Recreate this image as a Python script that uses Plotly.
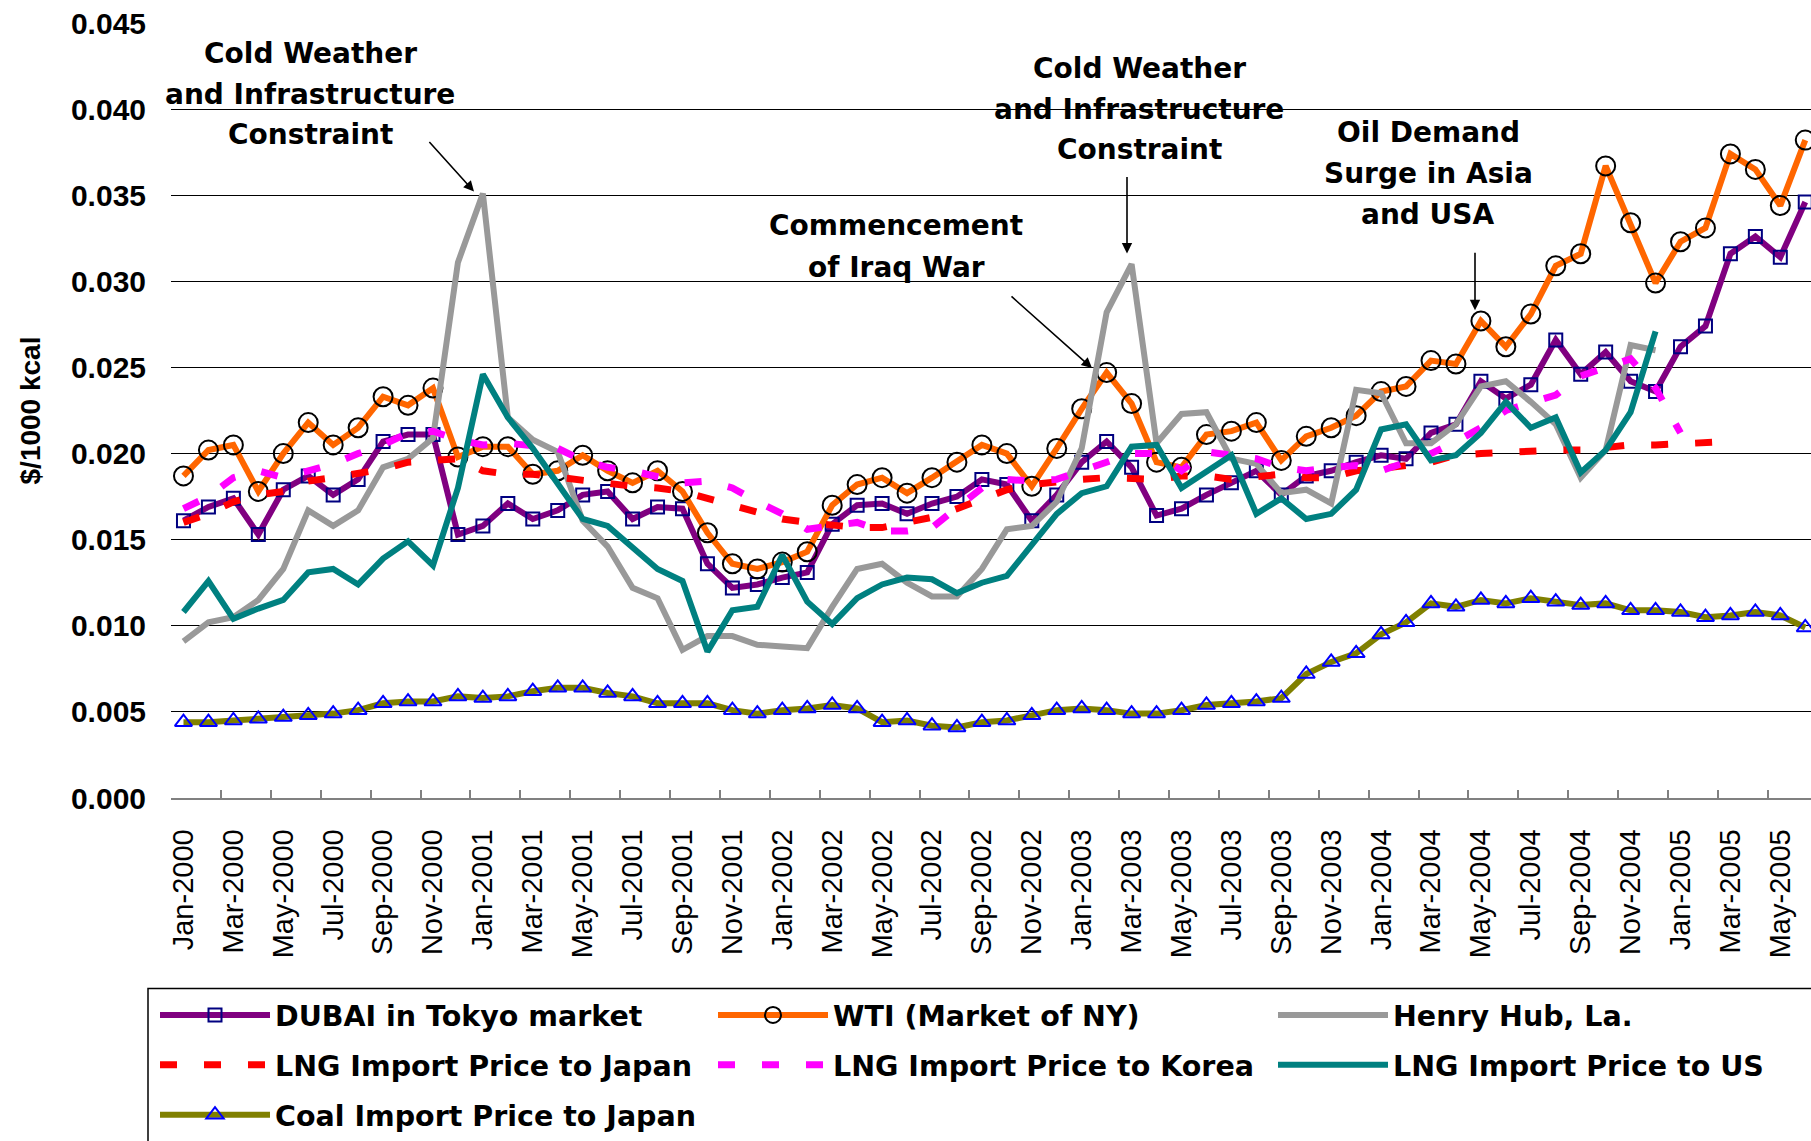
import plotly.graph_objects as go

months = [
    "Jan-2000", "Feb-2000", "Mar-2000", "Apr-2000", "May-2000", "Jun-2000", "Jul-2000", "Aug-2000", "Sep-2000", "Oct-2000", "Nov-2000", "Dec-2000",
    "Jan-2001", "Feb-2001", "Mar-2001", "Apr-2001", "May-2001", "Jun-2001", "Jul-2001", "Aug-2001", "Sep-2001", "Oct-2001", "Nov-2001", "Dec-2001",
    "Jan-2002", "Feb-2002", "Mar-2002", "Apr-2002", "May-2002", "Jun-2002", "Jul-2002", "Aug-2002", "Sep-2002", "Oct-2002", "Nov-2002", "Dec-2002",
    "Jan-2003", "Feb-2003", "Mar-2003", "Apr-2003", "May-2003", "Jun-2003", "Jul-2003", "Aug-2003", "Sep-2003", "Oct-2003", "Nov-2003", "Dec-2003",
    "Jan-2004", "Feb-2004", "Mar-2004", "Apr-2004", "May-2004", "Jun-2004", "Jul-2004", "Aug-2004", "Sep-2004", "Oct-2004", "Nov-2004", "Dec-2004",
    "Jan-2005", "Feb-2005", "Mar-2005", "Apr-2005", "May-2005", "Jun-2005",
]

dubai = [
    0.0161, 0.0169, 0.0174, 0.0153, 0.0179, 0.0187, 0.0176, 0.0185, 0.0207, 0.0211, 0.0211, 0.0153,
    0.0158, 0.0171, 0.0162, 0.0167, 0.0176, 0.0178, 0.0162, 0.0169, 0.0168, 0.0136, 0.0122, 0.0124,
    0.0128, 0.0131, 0.0159, 0.0170, 0.0171, 0.0165, 0.0171, 0.0175, 0.0185, 0.0182, 0.0161, 0.0176,
    0.0195, 0.0207, 0.0192, 0.0164, 0.0168, 0.0176, 0.0183, 0.0190, 0.0176, 0.0187, 0.0190, 0.0195,
    0.0199, 0.0197, 0.0212, 0.0217, 0.0242, 0.0232, 0.0240, 0.0266, 0.0246, 0.0259, 0.0242, 0.0236,
    0.0262, 0.0274, 0.0316, 0.0326, 0.0314, 0.0346,
]

wti = [
    0.0187, 0.0202, 0.0205, 0.0178, 0.0200, 0.0218, 0.0205, 0.0215, 0.0233, 0.0228, 0.0238, 0.0198,
    0.0204, 0.0204, 0.0188, 0.0190, 0.0199, 0.0190, 0.0183, 0.0190, 0.0178, 0.0154, 0.0136, 0.0133,
    0.0137, 0.0143, 0.0170, 0.0182, 0.0186, 0.0177, 0.0186, 0.0195, 0.0205, 0.0200, 0.0181, 0.0203,
    0.0226, 0.0247, 0.0229, 0.0195, 0.0192, 0.0211, 0.0213, 0.0218, 0.0196, 0.0210, 0.0215, 0.0222,
    0.0236, 0.0239, 0.0254, 0.0252, 0.0277, 0.0262, 0.0281, 0.0309, 0.0316, 0.0367, 0.0334, 0.0299,
    0.0323, 0.0331, 0.0374, 0.0365, 0.0344, 0.0382,
]

henry_hub = [
    0.0091, 0.0102, 0.0105, 0.0115, 0.0133, 0.0167, 0.0158, 0.0167, 0.0192, 0.0197, 0.0209, 0.0311,
    0.0351, 0.0221, 0.0208, 0.0201, 0.0161, 0.0146, 0.0122, 0.0116, 0.0086, 0.0094, 0.0094, 0.0089,
    0.0088, 0.0087, 0.0111, 0.0133, 0.0136, 0.0125, 0.0117, 0.0117, 0.0133, 0.0156, 0.0158, 0.0172,
    0.0203, 0.0282, 0.0310, 0.0206, 0.0223, 0.0224, 0.0197, 0.0194, 0.0177, 0.0179, 0.0171, 0.0237,
    0.0235, 0.0206, 0.0206, 0.0217, 0.0239, 0.0242, 0.0230, 0.0217, 0.0186, 0.0202, 0.0263, 0.0260,
    None, None, None, None, None, None,
]

lng_japan = [
    0.0160, 0.0165, 0.0172, 0.0176, 0.0178, 0.0184, 0.0186, 0.0188, 0.0191, 0.0195, 0.0196, 0.0197,
    0.0190, 0.0188, 0.0188, 0.0186, 0.0184, 0.0183, 0.0181, 0.0180, 0.0178, 0.0174, 0.0170, 0.0165,
    0.0162, 0.0160, 0.0158, 0.0157, 0.0157, 0.0160, 0.0163, 0.0168, 0.0174, 0.0179, 0.0182, 0.0184,
    0.0185, 0.0186, 0.0185, 0.0185, 0.0187, 0.0187, 0.0185, 0.0186, 0.0188, 0.0186, 0.0186, 0.0190,
    0.0191, 0.0193, 0.0195, 0.0199, 0.0200, 0.0201, 0.0201, 0.0202, 0.0202, 0.0204, 0.0205, 0.0205,
    0.0206, 0.0206, 0.0207, None, None, None,
]

lng_korea = [
    0.0168, 0.0175, 0.0186, 0.0190, 0.0186, 0.0190, 0.0194, 0.0200, 0.0205, 0.0212, 0.0213, 0.0208,
    0.0205, 0.0206, 0.0204, 0.0203, 0.0196, 0.0192, 0.0190, 0.0186, 0.0183, 0.0184, 0.0180, 0.0172,
    0.0165, 0.0156, 0.0158, 0.0160, 0.0155, 0.0155, 0.0157, 0.0168, 0.0180, 0.0185, 0.0184, 0.0185,
    0.0190, 0.0196, 0.0200, 0.0200, 0.0190, 0.0201, 0.0199, 0.0197, 0.0192, 0.0190, 0.0192, 0.0193,
    0.0190, 0.0195, 0.0200, 0.0207, 0.0215, 0.0225, 0.0230, 0.0234, 0.0245, 0.0250, 0.0255, 0.0238,
    0.0212, None, None, None, None, None,
]

lng_us = [
    0.0108, 0.0126, 0.0104, 0.0110, 0.0115, 0.0131, 0.0133, 0.0124, 0.0139, 0.0149, 0.0135, 0.0180,
    0.0246, 0.0221, 0.0203, 0.0182, 0.0162, 0.0158, 0.0146, 0.0133, 0.0126, 0.0085, 0.0109, 0.0111,
    0.0141, 0.0114, 0.0101, 0.0116, 0.0124, 0.0128, 0.0127, 0.0119, 0.0125, 0.0129, 0.0147, 0.0165,
    0.0177, 0.0181, 0.0204, 0.0205, 0.0180, 0.0189, 0.0199, 0.0165, 0.0174, 0.0162, 0.0165, 0.0179,
    0.0214, 0.0217, 0.0196, 0.0199, 0.0212, 0.0230, 0.0215, 0.0221, 0.0189, 0.0202, 0.0224, 0.0271,
    None, None, None, None, None, None,
]

coal_japan = [
    0.0044, 0.0044, 0.0045, 0.0046, 0.0047, 0.0048, 0.0049, 0.0051, 0.0055, 0.0056, 0.0056, 0.0059,
    0.0058, 0.0059, 0.0062, 0.0064, 0.0064, 0.0061, 0.0059, 0.0055, 0.0055, 0.0055, 0.0051, 0.0049,
    0.0051, 0.0052, 0.0054, 0.0052, 0.0044, 0.0045, 0.0042, 0.0041, 0.0044, 0.0045, 0.0048, 0.0051,
    0.0052, 0.0051, 0.0049, 0.0049, 0.0051, 0.0054, 0.0055, 0.0056, 0.0058, 0.0072, 0.0079, 0.0084,
    0.0095, 0.0102, 0.0113, 0.0111, 0.0115, 0.0113, 0.0116, 0.0114, 0.0112, 0.0113, 0.0109, 0.0109,
    0.0108, 0.0105, 0.0106, 0.0108, 0.0106, 0.0099,
]

series_names = [
    "DUBAI in Tokyo market", "WTI (Market of NY)", "Henry Hub, La.",
    "LNG Import Price to Japan", "LNG Import Price to Korea", "LNG Import Price to US",
    "Coal Import Price to Japan",
]

annotation_lines = {
    "cold1": ["Cold Weather", "and Infrastructure", "Constraint"],
    "iraq": ["Commencement", "of Iraq War"],
    "cold2": ["Cold Weather", "and Infrastructure", "Constraint"],
    "oil": ["Oil Demand", "Surge in Asia", "and USA"],
}

# ---- layout geometry (pixels) ----
W, H = 1811, 1141
L, R, T, B = 171, 1811, 23, 800


def px(xp):
    return (xp - L) / (R - L)


def py(yp):
    return (B - yp) / (B - T)


BOLD = dict(family="DejaVu Sans", weight="bold", color="black")
dash = "17px,27px"

# one legend per entry, placed on a 3-column grid
legend_slots = [(155, 1018), (713, 1018), (1273, 1018),
                (155, 1068), (713, 1068), (1273, 1068),
                (155, 1118)]
legend_ids = ["legend"] + [f"legend{i}" for i in range(2, 8)]

styles = [
    dict(y=dubai, mode="lines+markers", line=dict(color="#800080", width=6),
         marker=dict(symbol="square-open", size=13, color="#000080", line=dict(width=2, color="#000080"))),
    dict(y=wti, mode="lines+markers", line=dict(color="#FF6600", width=6),
         marker=dict(symbol="circle-open", size=19, color="black", line=dict(width=2, color="black"))),
    dict(y=henry_hub, mode="lines", line=dict(color="#999999", width=6)),
    dict(y=lng_japan, mode="lines", line=dict(color="#FF0000", width=7, dash=dash)),
    dict(y=lng_korea, mode="lines", line=dict(color="#FF00FF", width=7, dash=dash)),
    dict(y=lng_us, mode="lines", line=dict(color="#008080", width=6)),
    dict(y=coal_japan, mode="lines+markers", line=dict(color="#808000", width=6),
         marker=dict(symbol="triangle-up-open", size=15, color="#0000FF", line=dict(width=2, color="#0000FF"))),
]

fig = go.Figure()
for name, st, lid in zip(series_names, styles, legend_ids):
    fig.add_trace(go.Scatter(x=months, name=name, legend=lid, **st))

# white boxes behind annotation text (hide gridlines)
boxes = [(171, 30, 462, 160), (986, 45, 1290, 175), (750, 185, 1040, 295), (1290, 105, 1563, 238)]
shapes = []
for x0, y0, x1, y1 in boxes:
    shapes.append(dict(type="rect", xref="paper", yref="paper", x0=px(x0), x1=px(x1), y0=py(y1), y1=py(y0),
                       fillcolor="white", line=dict(width=0), layer="between"))
# legend border
shapes.append(dict(type="rect", xref="paper", yref="paper", x0=px(148), x1=px(1830), y0=py(1160), y1=py(991),
                   fillcolor="rgba(0,0,0,0)", line=dict(color="black", width=1.5), layer="above"))

annotations = []
text_pos = {
    "cold1": (310, [54, 95, 135]),
    "iraq": (896, [226, 268]),
    "cold2": (1139, [69, 110, 150]),
    "oil": (1428, [133, 174, 215]),
}
for key, (cx, ys) in text_pos.items():
    for line_text, cy in zip(annotation_lines[key], ys):
        annotations.append(dict(xref="paper", yref="paper", x=px(cx), y=py(cy), text=line_text,
                                showarrow=False, xanchor="center", yanchor="middle",
                                font=dict(size=28, **BOLD)))

arrows = [((474, 192), (428, 141)), ((1127, 254), (1127, 176)), ((1092, 369), (1010, 296)), ((1475, 311), (1475, 252))]
for (tx, ty), (sx, sy) in arrows:
    annotations.append(dict(xref="paper", yref="paper", x=px(tx), y=py(ty), ax=sx - tx, ay=sy - ty,
                            text="", showarrow=True, arrowhead=2, arrowsize=1.3, arrowwidth=1.6,
                            arrowcolor="black", standoff=0))

legends = {}
for lid, (lx, ly) in zip(legend_ids, legend_slots):
    legends[lid] = dict(orientation="h", xanchor="left", yanchor="middle", x=px(lx), y=py(ly),
                        itemwidth=110, bgcolor="rgba(0,0,0,0)", borderwidth=0,
                        font=dict(size=28.5, **BOLD))

fig.update_layout(
    width=W, height=H,
    margin=dict(l=L, r=W - R, t=T, b=H - B, pad=0),
    paper_bgcolor="white", plot_bgcolor="white",
    showlegend=True,
    shapes=shapes,
    annotations=annotations,
    xaxis=dict(
        type="category", categoryorder="array", categoryarray=months,
        range=[-0.5, 65.23], tickmode="linear", tick0=0, dtick=2, tickson="boundaries",
        ticks="inside", ticklen=8, tickwidth=1.5, tickcolor="#808080",
        showline=True, linecolor="#808080", linewidth=1.5, showgrid=False, zeroline=False,
        tickangle=-90, ticklabelstandoff=18,
        tickfont=dict(family="Liberation Sans, Arial", size=29, color="black"),
    ),
    yaxis=dict(
        range=[0, 0.045], tickmode="linear", tick0=0, dtick=0.005, tickformat=".3f",
        showgrid=True, gridcolor="black", gridwidth=1, zeroline=False, showline=False, ticks="",
        ticklabelstandoff=24,
        tickfont=dict(family="Liberation Sans, Arial", size=30, color="black", weight="bold"),
        title=dict(text="$/1000 kcal", standoff=22,
                   font=dict(family="Liberation Sans, Arial", size=28, color="black", weight="bold")),
    ),
    **legends,
)

fig.write_html(
    "out.html",
    config={"displayModeBar": False},
    post_script="document.body.style.margin='0px';document.body.style.overflow='hidden';",
)
